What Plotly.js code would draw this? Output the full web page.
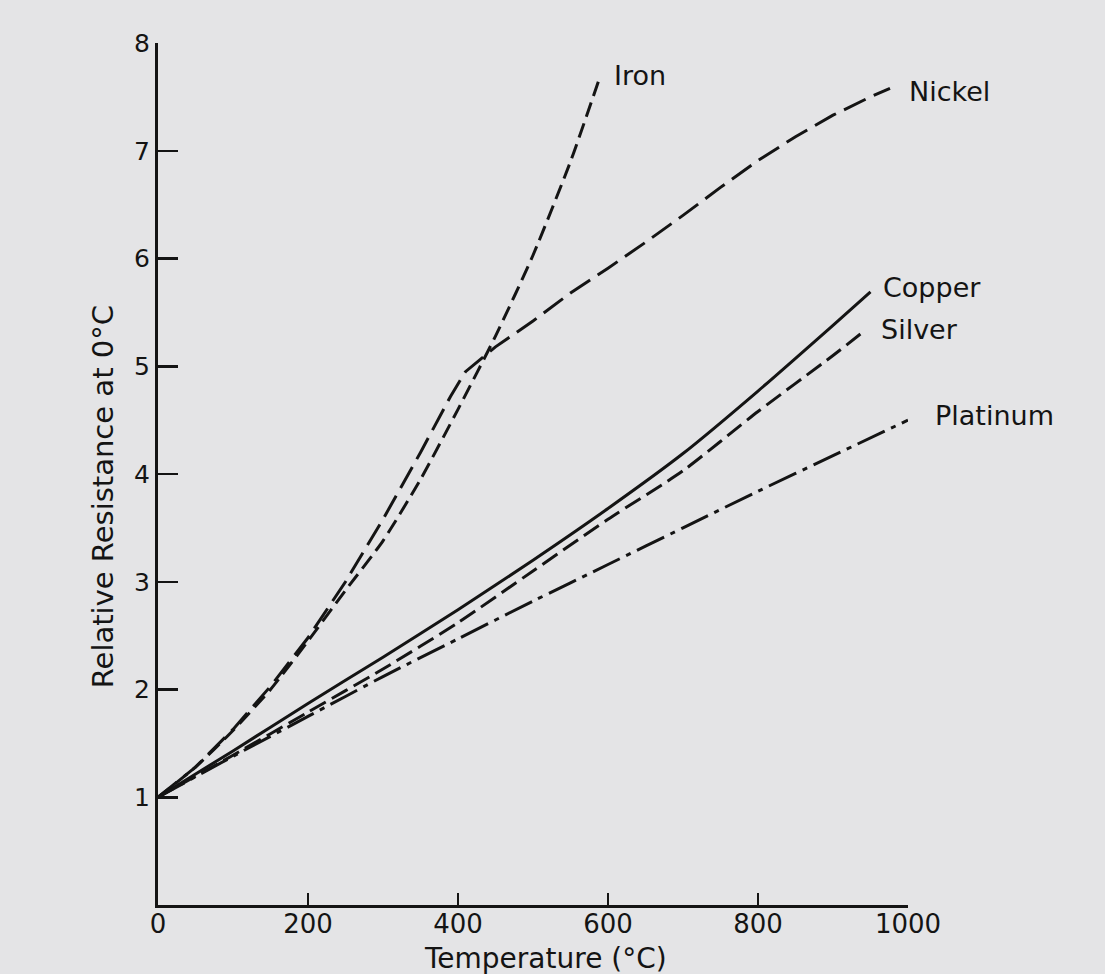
<!DOCTYPE html>
<html>
<head>
<meta charset="utf-8">
<script src="https://cdn.plot.ly/plotly-3.0.1.min.js"></script>
<style>
html,body{margin:0;padding:0;background:#e4e4e6;}
#chart{width:1105px;height:974px;}
</style>
</head>
<body>
<div id="chart"></div>
<script>
// Temperatures (°C) and relative resistance R/R0
const ironT      = [0, 50, 100, 150, 200, 250, 300, 350, 400, 450, 500, 550, 590];
const ironR      = [1, 1.28, 1.62, 2.0, 2.45, 2.92, 3.38, 3.95, 4.6, 5.28, 6.03, 6.9, 7.7];

const nickelT    = [0, 50, 100, 150, 200, 250, 300, 350, 390, 410, 450, 500, 550, 600, 650, 700, 750, 800, 850, 900, 950, 976];
const nickelR    = [1, 1.28, 1.63, 2.03, 2.48, 3.0, 3.58, 4.2, 4.72, 4.95, 5.18, 5.42, 5.68, 5.91, 6.15, 6.4, 6.66, 6.91, 7.13, 7.33, 7.5, 7.58];

const copperT    = [0, 100, 200, 300, 400, 500, 600, 700, 800, 900, 950];
const copperR    = [1, 1.43, 1.87, 2.3, 2.74, 3.2, 3.68, 4.19, 4.77, 5.38, 5.69];

const silverT    = [0, 100, 200, 300, 400, 500, 600, 700, 800, 900, 944];
const silverR    = [1, 1.39, 1.79, 2.19, 2.62, 3.1, 3.58, 4.03, 4.58, 5.1, 5.34];

const platinumT  = [0, 100, 200, 300, 400, 500, 600, 700, 800, 900, 1000];
const platinumR  = [1, 1.38, 1.75, 2.12, 2.47, 2.82, 3.16, 3.5, 3.84, 4.17, 4.5];

const xTicks = [0, 200, 400, 600, 800, 1000];
const yTicks = [1, 2, 3, 4, 5, 6, 7, 8];
const seriesNames = ['Iron', 'Nickel', 'Copper', 'Silver', 'Platinum'];
const xTitle = 'Temperature (°C)';
const yTitle = 'Relative Resistance at 0°C';

const ink = '#141414';
const font = 'DejaVu Sans, Liberation Sans, sans-serif';

const series = [
  {name: seriesNames[0], x: ironT, y: ironR, dash: '15px,7px', shape: 'spline', lx: 11, ly: 0},
  {name: seriesNames[1], x: nickelT, y: nickelR, dash: '24px,9px', shape: 'linear', lx: 17, ly: -3},
  {name: seriesNames[2], x: copperT, y: copperR, dash: 'solid', shape: 'spline', lx: 10, ly: 4},
  {name: seriesNames[3], x: silverT, y: silverR, dash: '18px,7px', shape: 'spline', lx: 13, ly: 0},
  {name: seriesNames[4], x: platinumT, y: platinumR, dash: '30px,7px,5px,7px', shape: 'spline', lx: 25, ly: 5}
];

const traces = series.map(s => ({
  type: 'scatter', mode: 'lines', name: s.name, x: s.x, y: s.y,
  line: {color: ink, width: 3, dash: s.dash, shape: s.shape, smoothing: 0.6},
  hoverinfo: 'x+y+name'
}));

const annotations = series.map(s => ({
  x: s.x[s.x.length - 1], y: s.y[s.y.length - 1], xref: 'x', yref: 'y',
  text: s.name, showarrow: false, xanchor: 'left', yanchor: 'middle',
  xshift: s.lx, yshift: s.ly,
  font: {family: font, size: 27, color: ink}
}));

// axis titles placed as paper-anchored annotations
annotations.push({
  text: xTitle, xref: 'paper', yref: 'paper', x: 0.516, y: -0.0615,
  xanchor: 'center', yanchor: 'middle', showarrow: false,
  font: {family: font, size: 28, color: ink}
});
annotations.push({
  text: yTitle, xref: 'paper', yref: 'paper', x: -0.0733, y: 0.473,
  xanchor: 'center', yanchor: 'middle', showarrow: false, textangle: -90,
  font: {family: font, size: 29, color: ink}
});

const layout = {
  width: 1105, height: 974,
  margin: {l: 158, r: 197, t: 43, b: 69},
  paper_bgcolor: '#e4e4e6', plot_bgcolor: '#e4e4e6',
  showlegend: false,
  xaxis: {
    range: [0, 1000], tickvals: xTicks, ticktext: xTicks.map(String),
    ticks: 'inside', ticklen: 12, tickwidth: 2.5, tickcolor: ink,
    showline: true, linewidth: 3, linecolor: ink, showgrid: false, zeroline: false,
    tickfont: {family: font, size: 26, color: ink}, ticklabelstandoff: -6,
    fixedrange: true
  },
  yaxis: {
    range: [0, 8], tickvals: yTicks, ticktext: yTicks.map(String),
    ticks: 'inside', ticklen: 20, tickwidth: 2.5, tickcolor: ink,
    showline: true, linewidth: 3, linecolor: ink, showgrid: false, zeroline: false,
    tickfont: {family: font, size: 25, color: ink},
    fixedrange: true
  },
  annotations: annotations
};

Plotly.newPlot('chart', traces, layout, {displayModeBar: false, staticPlot: true});
</script>
</body>
</html>
